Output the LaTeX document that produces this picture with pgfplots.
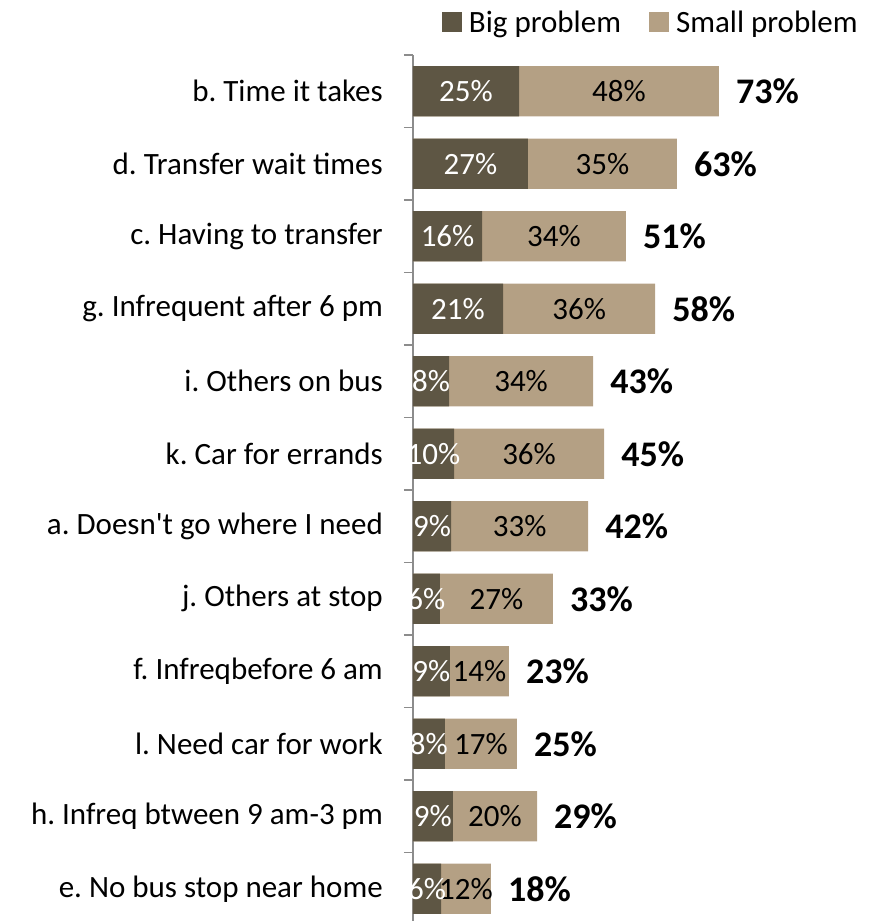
\documentclass[border=0pt]{standalone}
\usepackage{fontspec}
\setmainfont{Carlito}
\usepackage{pgfplots}
\usepackage{pgfplotstable}
\pgfplotsset{compat=1.18}
\frenchspacing
\definecolor{bigc}{HTML}{5E5644}
\definecolor{smallc}{HTML}{B4A084}
\definecolor{axisc}{HTML}{8C8C8C}
\newcommand\fs{\fontsize{31bp}{37bp}\selectfont}
\newcommand\fb{\fontsize{36bp}{42bp}\selectfont\bfseries}

% idx: 0 = top bar; big/tot = bar lengths, bl/sl/tl = printed labels
\pgfplotstableread{
idx big tot bl sl tl
0  25.3 73.0 25 48 73
1  27.4 63.0 27 35 63
2  16.5 50.8 16 34 51
3  21.5 57.8 21 36 58
4  8.6  43.0 8  34 43
5  9.8  45.6 10 36 45
6  9.1  41.8 9  33 42
7  6.4  33.4 6  27 33
8  8.8  22.9 9  14 23
9  7.6  24.8 8  17 25
10 9.5  29.6 9  20 29
11 6.7  18.6 6  12 18
}\probs

\pgfplotsset{sq legend/.style={legend image code/.code={\fill[##1] (0bp,-10bp) rectangle (20bp,10bp);}}}

\begin{document}
\begin{tikzpicture}
\begin{axis}[
  scale only axis, width=462bp, height=866bp,
  xmin=0, xmax=110.26, ymin=-0.5, ymax=11.445, y dir=reverse,
  axis x line=none, axis y line*=left,
  y axis line style={draw=axisc, line width=1.5bp},
  ytick={0,...,11},
  yticklabels={b. Time it takes\hspace{0.23em}, d. Transfer wait times, c. Having to transfer,
    g. Infrequent after 6 pm, i. Others on bus, k. Car for errands,
    a. Doesn\textquotesingle t go where I need, j. Others at stop, f. Infreqbefore 6 am,
    l. Need car for work, h. Infreq btween 9 am-3 pm, e. No bus stop near home},
  major tick length=0pt,
  minor ytick={-0.5,0.5,...,11.5}, minor tick length=9bp, tick align=outside,
  every minor tick/.append style={draw=axisc, line width=1.5bp},
  yticklabel style={font=\fs, inner sep=0pt, anchor=east, xshift=-30bp},
  clip=false,
  reverse legend,
  legend columns=2,
  legend style={draw=none, fill=none, inner sep=0pt, at={(0.963,1.038)}, anchor=east,
    font=\fs, nodes={inner sep=0pt},
    /tikz/every odd column/.append style={column sep=7bp},
    /tikz/every even column/.append style={column sep=28bp}},
]
\addplot[xbar, bar shift=0pt, bar width=0.69, fill=smallc, draw=none, sq legend]
  table[x=tot, y=idx]{\probs};
\addlegendentry{Small problem}
\addplot[xbar, bar shift=0pt, bar width=0.69, fill=bigc, draw=none, sq legend]
  table[x=big, y=idx]{\probs};
\addlegendentry{Big problem}

\addplot[draw=none, mark=none, forget plot, point meta=explicit symbolic,
  nodes near coords={\pgfplotspointmeta\%},
  every node near coord/.append style={anchor=center, font=\fs, text=black, inner sep=0pt}]
  table[x expr=(\thisrow{big}+\thisrow{tot})/2, y=idx, meta=sl]{\probs};
\addplot[draw=none, mark=none, forget plot, point meta=explicit symbolic,
  nodes near coords={\pgfplotspointmeta\%},
  every node near coord/.append style={anchor=center, font=\fs, text=white, inner sep=0pt}]
  table[x expr=\thisrow{big}/2, y=idx, meta=bl]{\probs};
\addplot[draw=none, mark=none, forget plot, point meta=explicit symbolic,
  nodes near coords={\pgfplotspointmeta\%},
  every node near coord/.append style={anchor=west, font=\fb, text=black, inner sep=0pt, xshift=17bp}]
  table[x=tot, y=idx, meta=tl]{\probs};
\end{axis}
\pgfresetboundingbox
\path[use as bounding box] (-413bp,0bp) rectangle (462bp,921bp);
\end{tikzpicture}
\end{document}
